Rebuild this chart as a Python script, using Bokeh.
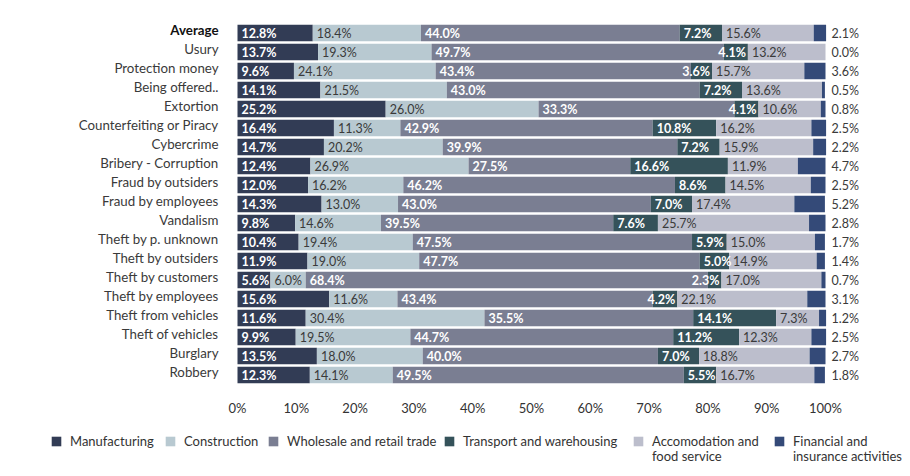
from bokeh.plotting import figure
from bokeh.layouts import column
from bokeh.models import (ColumnDataSource, FactorRange, Range1d, FixedTicker,
                          PrintfTickFormatter, Legend, LegendItem)
from bokeh.core.properties import value
from bokeh.embed import file_html
from bokeh.resources import INLINE

categories = ["Average", "Usury", "Protection money", "Being offered..", "Extortion",
              "Counterfeiting or Piracy", "Cybercrime", "Bribery - Corruption",
              "Fraud by outsiders", "Fraud by employees", "Vandalism",
              "Theft by p. unknown", "Theft by outsiders", "Theft by customers",
              "Theft by employees", "Theft from vehicles", "Theft of vehicles",
              "Burglary", "Robbery"]

series_names = ["Manufacturing", "Construction", "Wholesale and retail trade",
                "Transport and warehousing", "Accomodation and\nfood service",
                "Financial and\ninsurance activities"]

manufacturing = [12.8, 13.7, 9.6, 14.1, 25.2, 16.4, 14.7, 12.4, 12.0, 14.3, 9.8, 10.4, 11.9, 5.6, 15.6, 11.6, 9.9, 13.5, 12.3]
construction = [18.4, 19.3, 24.1, 21.5, 26.0, 11.3, 20.2, 26.9, 16.2, 13.0, 14.6, 19.4, 19.0, 6.0, 11.6, 30.4, 19.5, 18.0, 14.1]
wholesale = [44.0, 49.7, 43.4, 43.0, 33.3, 42.9, 39.9, 27.5, 46.2, 43.0, 39.5, 47.5, 47.7, 68.4, 43.4, 35.5, 44.7, 40.0, 49.5]
transport = [7.2, 4.1, 3.6, 7.2, 4.1, 10.8, 7.2, 16.6, 8.6, 7.0, 7.6, 5.9, 5.0, 2.3, 4.2, 14.1, 11.2, 7.0, 5.5]
accomodation = [15.6, 13.2, 15.7, 13.6, 10.6, 16.2, 15.9, 11.9, 14.5, 17.4, 25.7, 15.0, 14.9, 17.0, 22.1, 7.3, 12.3, 18.8, 16.7]
financial = [2.1, 0.0, 3.6, 0.5, 0.8, 2.5, 2.2, 4.7, 2.5, 5.2, 2.8, 1.7, 1.4, 0.7, 3.1, 1.2, 2.5, 2.7, 1.8]

x_ticks = [0, 10, 20, 30, 40, 50, 60, 70, 80, 90, 100]

colors = ["#323c55", "#b8c9d1", "#7a7e92", "#35525a", "#bcbecc", "#344a78"]
keys = ["manufacturing", "construction", "wholesale", "transport", "accomodation", "financial"]
all_series = [manufacturing, construction, wholesale, transport, accomodation, financial]

FONT = "Lato"
PX = 5.88          # pixels per percentage point
LEFT = 237         # canvas pixel of 0%
FW = 906
x0 = -LEFT / PX
x1 = x0 + FW / PX

data = {"cat": categories}
for k, s in zip(keys, all_series):
    data[k] = s
src = ColumnDataSource(data)

p = figure(frame_width=FW, frame_height=361,
           x_range=Range1d(x0, x1), y_range=FactorRange(factors=categories[::-1]),
           output_backend="svg", toolbar_location=None, y_axis_location=None,
           min_border_top=23, min_border_left=0, min_border_right=0, min_border_bottom=36)
p.outline_line_color = None
p.grid.visible = False
p.background_fill_color = "white"

renderers = p.hbar_stack(keys, y="cat", height=0.86, color=colors, line_color=None, source=src)

# segment labels
lx, ly, lt, la, lo, lc, lf = [], [], [], [], [], [], []
for i, cat in enumerate(categories):
    cum = 0.0
    for j, s in enumerate(all_series):
        v = s[i]
        start, end = cum, cum + v
        cum = end
        txt = f"{v:.1f}%"
        if j == 5:
            lx.append(100); ly.append(cat); lt.append(txt); la.append("left"); lo.append(6)
            lc.append("#3a3a3a"); lf.append("normal")
            continue
        dark = j in (0, 2, 3)
        if v < 4.5:
            lx.append(end); la.append("right"); lo.append(-2)
        else:
            lx.append(start); la.append("left"); lo.append(4)
        ly.append(cat); lt.append(txt)
        lc.append("white" if dark else "#3a3a3a")
        lf.append("bold" if dark else "normal")

lab_src = ColumnDataSource(dict(x=lx, y=ly, t=lt, a=la, o=lo, c=lc, f=lf))
p.text(x="x", y="y", text="t", source=lab_src, text_align="a", x_offset="o",
       text_color="c", text_font_style="f", text_baseline="middle",
       text_font=value(FONT), text_font_size="12.5px")

# category labels
cat_font_style = ["bold" if c == "Average" else "normal" for c in categories]
cat_color = ["#111111" if c == "Average" else "#3a3a3a" for c in categories]
cat_src = ColumnDataSource(dict(y=categories, x=[0] * len(categories), s=cat_font_style, c=cat_color))
p.text(x="x", y="y", text="y", source=cat_src, text_align="right", x_offset=-19, y_offset=-3,
       text_baseline="middle", text_font=value(FONT), text_font_size="13.3px",
       text_font_style="s", text_color="c")

ax = p.xaxis[0]
ax.ticker = FixedTicker(ticks=x_ticks)
ax.formatter = PrintfTickFormatter(format="%d%%")
ax.axis_line_color = None
ax.major_tick_line_color = None
ax.minor_tick_line_color = None
ax.major_label_standoff = 9
ax.major_label_text_font = FONT
ax.major_label_text_font_size = "13px"
ax.major_label_text_color = "#333333"

# legend in its own strip below the chart
p2 = figure(frame_width=FW, frame_height=50, x_range=Range1d(0, 1), y_range=Range1d(0, 1),
            output_backend="svg", toolbar_location=None, x_axis_location=None, y_axis_location=None,
            min_border_top=0, min_border_bottom=0, min_border_left=0, min_border_right=0)
p2.outline_line_color = None
p2.grid.visible = False
# zero-size placeholder bars that only carry the legend swatch colours
swatches = [p2.hbar(y=[0.5], left=[0], right=[0], height=0, fill_color=c, line_color=None)
            for c in colors]
blank = p2.hbar(y=[0.5], left=[0], right=[0], height=0, fill_alpha=0, line_alpha=0)

LEG_X = [50, 164, 267, 443, 632, 773]   # swatch positions (layout)
ROW1_Y, ROW2_Y = 21, 6


def make_legend(label, renderer, x, y):
    lg = Legend(items=[LegendItem(label=label, renderers=[renderer])],
                orientation="horizontal", location=(x, y), glyph_width=12, glyph_height=12,
                label_standoff=8, spacing=0, padding=0, margin=0, border_line_color=None,
                background_fill_alpha=0, label_text_font=FONT, label_text_font_size="13px",
                label_text_color="#333333", label_height=12)
    p2.add_layout(lg, "center")


for name, r, x in zip(series_names, swatches, LEG_X):
    lines = name.split("\n")
    make_legend(lines[0], r, x, ROW1_Y)
    for k, extra in enumerate(lines[1:]):
        make_legend(extra, blank, x, ROW2_Y - 15 * k)

layout = column(p, p2, spacing=0)
open("out.html", "w").write(file_html(layout, INLINE))
